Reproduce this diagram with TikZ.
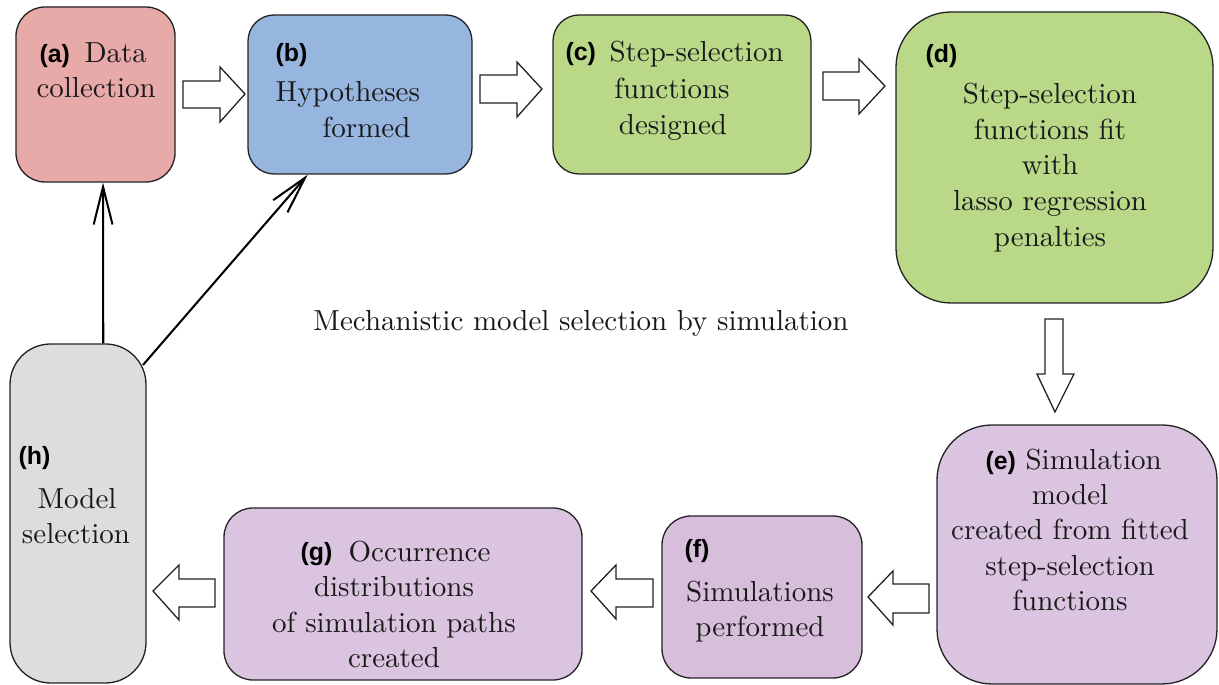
\documentclass[tikz,border=0pt]{standalone}
\usepackage{fontspec}
\newfontfamily\labfont{Liberation Sans}
\usetikzlibrary{arrows.meta,fit,calc}
\definecolor{pinkA}{HTML}{E8A9A9}
\definecolor{blueB}{HTML}{96B6DF}
\definecolor{greenC}{HTML}{B9D989}
\definecolor{purpE}{HTML}{DAC4E0}
\definecolor{purpF}{HTML}{D7BEDB}
\definecolor{greyH}{HTML}{DDDDDB}
\definecolor{edge}{HTML}{222222}
\begin{document}
\begin{tikzpicture}[x=0.345pt,y=-0.345pt,
  box/.style={draw=edge, line width=0.45pt, inner sep=0pt},
  txt/.style={font=\fontsize{10}{12}\selectfont, inner sep=0pt, text=black!90},
  lab/.style={font={\labfont\bfseries\fontsize{8.6}{10}\selectfont}, inner sep=0pt, anchor=base west},
  blk/.style={draw=edge, line width=0.45pt, fill=white, line join=miter},
  la/.style={line width=0.7pt, -{Straight Barb[length=13pt,width=6.5pt]}}]
\useasboundingbox (0,0) rectangle (1219,685);

% boxes
\node[box, fill=pinkA, rounded corners=10pt, fit={(16,7)(175,182)}] (a) {};
\node[box, fill=blueB, rounded corners=9pt, fit={(248,15)(472,174)}] (b) {};
\node[box, fill=greenC, rounded corners=9pt, fit={(553,15)(811,174)}] (c) {};
\node[box, fill=greenC, rounded corners=19pt, fit={(896,12)(1213,303)}] (d) {};
\node[box, fill=purpE, rounded corners=19pt, fit={(937,425)(1217,684)}] (e) {};
\node[box, fill=purpF, rounded corners=10pt, fit={(662,516)(862,678)}] (f) {};
\node[box, fill=purpE, rounded corners=10pt, fit={(224,508)(582,680)}] (g) {};
\node[box, fill=greyH, rounded corners=14pt, fit={(10,344)(146,683)}] (h) {};

% block arrows
\draw[blk] (183,81) -- (220,81) -- (220,67) -- (245,94) -- (220,122) -- (220,108) -- (183,108) -- cycle;
\draw[blk] (480,75) -- (517,75) -- (517,62) -- (542,89) -- (517,117) -- (517,103) -- (480,103) -- cycle;
\draw[blk] (823,72) -- (859,72) -- (859,59) -- (885,86) -- (859,114) -- (859,100) -- (823,100) -- cycle;
\draw[blk] (1045,319) -- (1063,319) -- (1063,374) -- (1074,374) -- (1055,412) -- (1037,374) -- (1045,374) -- cycle;
\draw[blk] (929,584) -- (893,584) -- (893,571) -- (868,597) -- (893,625) -- (893,613) -- (929,613) -- cycle;
\draw[blk] (653,579) -- (616,579) -- (616,565) -- (591,591) -- (616,619) -- (616,607) -- (653,607) -- cycle;
\draw[blk] (215,579) -- (179,579) -- (179,565) -- (153,591) -- (179,620) -- (179,607) -- (215,607) -- cycle;

% line arrows
\draw[la] ($(h.north west)!0.684!(h.north east)$) -- ($(a.south west)!0.547!(a.south east)$);
\coordinate (hb) at (143,365);
\draw[la] (hb) -- ($(b.south west)!0.268!(b.south east)$);

% labels
\node[lab] (la) at (39,63) {(a)};
\node[lab] (lb) at (275,62) {(b)};
\node[lab] (lc) at (565,61) {(c)};
\node[lab] (ld) at (925,63) {(d)};
\node[lab] (le) at (985,470) {(e)};
\node[lab] (lf) at (684,558) {(f)};
\node[lab] (lg) at (300,561) {(g)};
\node[lab] (lh) at (18,465) {(h)};

% texts
\node[txt, anchor=base west] (a1) at (84,63) {Data};
\node[txt, anchor=base west] (a2) at (36,98) {collection};
\node[txt, anchor=base west] (b1) at (275,102) {Hypotheses};
\node[txt, anchor=base west] (b2) at (322,138) {formed};
\node[txt, anchor=base west] (c1) at (609,62) {Step-selection};
\node[txt, anchor=base] (c2) at (672,99) {functions};
\node[txt, anchor=base] (c3) at (673,135) {designed};
\node[txt, anchor=base] (d1) at (1050,104) {Step-selection};
\node[txt, anchor=base] (d2) at (1050,140) {functions fit};
\node[txt, anchor=base] (d3) at (1050,175) {with};
\node[txt, anchor=base] (d4) at (1050,211) {lasso regression};
\node[txt, anchor=base] (d5) at (1050,247) {penalties};
\node[txt, anchor=base west] (e1) at (1025,470) {Simulation};
\node[txt, anchor=base] (e2) at (1070,505) {model};
\node[txt, anchor=base] (e3) at (1070,540) {created from fitted};
\node[txt, anchor=base] (e4) at (1070,576) {step-selection};
\node[txt, anchor=base] (e5) at (1070,611) {functions};
\node[txt, anchor=base] (f1) at (760,602) {Simulations};
\node[txt, anchor=base] (f2) at (760,637) {performed};
\node[txt, anchor=base west] (g1) at (348,562) {Occurrence};
\node[txt, anchor=base] (g2) at (394,597) {distributions};
\node[txt, anchor=base] (g3) at (394,633) {of simulation paths};
\node[txt, anchor=base] (g4) at (394,668) {created};
\node[txt, anchor=base] (h1) at (77,509) {Model};
\node[txt, anchor=base] (h2) at (76,544) {selection};
\node[txt, anchor=base] (title) at (581,331) {Mechanistic model selection by simulation};
\end{tikzpicture}
\end{document}
